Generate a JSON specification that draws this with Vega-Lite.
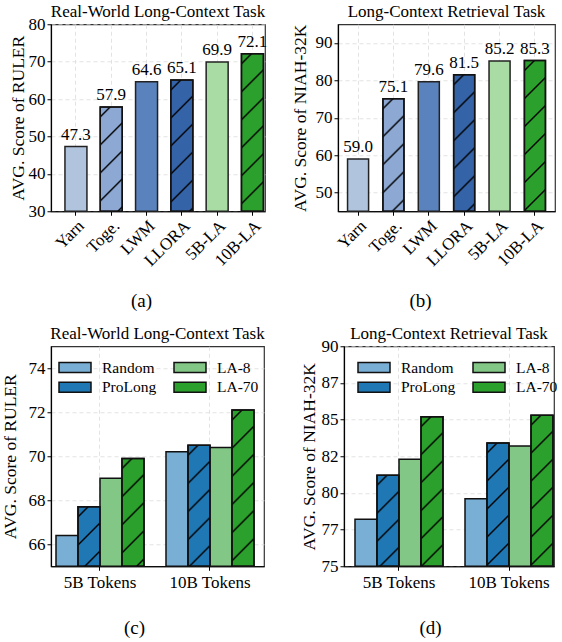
{
"$schema":"https://vega.github.io/schema/vega-lite/v6.json",
"background":"white",
"padding":{"left":0,"top":1.25,"right":0,"bottom":0},
"config":{
 "font":"Liberation Serif",
 "view":{"stroke":"#333","strokeWidth":1.2},
 "axis":{"labelFont":"Liberation Serif","titleFont":"Liberation Serif","labelFontSize":17,"titleFontSize":17.5,"titleFontWeight":"normal","labelColor":"#000","titleColor":"#000","domainColor":"#000","domainWidth":1.2,"tickColor":"#000","tickSize":4,"tickWidth":1,"gridColor":"#dcdcdc","gridDash":[4,3],"gridWidth":0.8,"labelPadding":2},
 "axisY":{"titleAngle":270,"titleAlign":"center","titleBaseline":"middle"},
 "title":{"font":"Liberation Serif","fontSize":17,"fontWeight":"normal","color":"#000"},
 "legend":{"labelFont":"Liberation Serif","labelFontSize":15.5,"labelColor":"#000","symbolType":"M-1.6,-0.5H1.6V0.5H-1.6Z","symbolSize":400,"symbolStrokeColor":"#111","symbolStrokeWidth":1.5,"symbolOpacity":1,"labelOffset":16,"columnPadding":14,"rowPadding":0,"columns":2,"orient":"none"}
},
"datasets":{
 "top":[
  {"task":"RULER","model":"Yarn","score":47.3},
  {"task":"RULER","model":"Toge.","score":57.9},
  {"task":"RULER","model":"LWM","score":64.6},
  {"task":"RULER","model":"LLORA","score":65.1},
  {"task":"RULER","model":"5B-LA","score":69.9},
  {"task":"RULER","model":"10B-LA","score":72.1},
  {"task":"NIAH","model":"Yarn","score":59.0},
  {"task":"NIAH","model":"Toge.","score":75.1},
  {"task":"NIAH","model":"LWM","score":79.6},
  {"task":"NIAH","model":"LLORA","score":81.5},
  {"task":"NIAH","model":"5B-LA","score":85.2},
  {"task":"NIAH","model":"10B-LA","score":85.3}
 ],
 "bottom":[
  {"task":"RULER","group":"5B Tokens","series":"Random","score":66.4},
  {"task":"RULER","group":"5B Tokens","series":"ProLong","score":67.7},
  {"task":"RULER","group":"5B Tokens","series":"LA-8","score":69.0},
  {"task":"RULER","group":"5B Tokens","series":"LA-70","score":69.9},
  {"task":"RULER","group":"10B Tokens","series":"Random","score":70.2},
  {"task":"RULER","group":"10B Tokens","series":"ProLong","score":70.5},
  {"task":"RULER","group":"10B Tokens","series":"LA-8","score":70.4},
  {"task":"RULER","group":"10B Tokens","series":"LA-70","score":72.1},
  {"task":"NIAH","group":"5B Tokens","series":"Random","score":78.2},
  {"task":"NIAH","group":"5B Tokens","series":"ProLong","score":81.2},
  {"task":"NIAH","group":"5B Tokens","series":"LA-8","score":82.3},
  {"task":"NIAH","group":"5B Tokens","series":"LA-70","score":85.2},
  {"task":"NIAH","group":"10B Tokens","series":"Random","score":79.6},
  {"task":"NIAH","group":"10B Tokens","series":"ProLong","score":83.4},
  {"task":"NIAH","group":"10B Tokens","series":"LA-8","score":83.2},
  {"task":"NIAH","group":"10B Tokens","series":"LA-70","score":85.3}
 ]
},
"spacing":12,
"resolve":{"scale":{"x":"independent","y":"independent","fill":"independent"},"legend":{"fill":"independent"}},
"vconcat":[
 {"spacing":22,
  "resolve":{"scale":{"x":"independent","y":"independent","fill":"independent"},"legend":{"fill":"independent"}},
  "hconcat":[
  {"width":214,"height":187,
   "title":{"text":"Real-World Long-Context Task","offset":-5.25},
   "data":{"name":"top"},
   "transform":[{"filter":"datum.task==='RULER'"}],
   "encoding":{
    "x":{"field":"model","type":"nominal","sort":null,"scale":{"paddingInner":0.377,"paddingOuter":0.2195,"align":0.9},
         "axis":{"title":"(a)","titleFontSize":19,"titleX":90,"titleY":89,"titleBaseline":"middle","titleAlign":"center","labelAngle":-45,"grid":true,"bandPosition":0.5}},
    "y":{"field":"score","type":"quantitative","scale":{"domain":[30,80],"nice":false,"zero":false,"clamp":true},
         "axis":{"title":"AVG. Score of RULER","values":[30,40,50,60,70,80],"titleX":-32.5,"titleY":93.5}}
   },
   "layer":[
    {"mark":{"type":"bar","stroke":"#222","strokeWidth":1.5},
     "encoding":{"fill":{"field":"model","type":"nominal","legend":null,
       "scale":{"domain":["Yarn","Toge.","LWM","LLORA","5B-LA","10B-LA"],"range":["#b0c4de","#8ca8d3","#5a82bd","#3563a8","#a9dca5","#2ca02c"]}}}},
    {"transform":[{"filter":"datum.model==='Toge.'||datum.model==='LLORA'||datum.model==='10B-LA'"}],
     "mark":{"type":"bar","stroke":"#111","strokeWidth":1.5},
     "encoding":{"fill":{"condition":[
      {"test":"datum.model==='Toge.'","value":{"gradient":"linear","x1":0,"y1":0,"x2":0.2446,"y2":1.1594,"stops":[
        {"offset":0.0634,"color":"transparent"},{"offset":0.0792,"color":"#000"},{"offset":0.095,"color":"transparent"},
        {"offset":0.2851,"color":"transparent"},{"offset":0.3009,"color":"#000"},{"offset":0.3167,"color":"transparent"},
        {"offset":0.5068,"color":"transparent"},{"offset":0.5226,"color":"#000"},{"offset":0.5384,"color":"transparent"},
        {"offset":0.7285,"color":"transparent"},{"offset":0.7443,"color":"#000"},{"offset":0.7601,"color":"transparent"},
        {"offset":0.9502,"color":"transparent"},{"offset":0.966,"color":"#000"},{"offset":0.9818,"color":"transparent"}]}},
      {"test":"datum.model==='LLORA'","value":{"gradient":"linear","x1":0,"y1":0,"x2":0.1903,"y2":1.1357,"stops":[
        {"offset":0.0522,"color":"transparent"},{"offset":0.0652,"color":"#000"},{"offset":0.0782,"color":"transparent"},
        {"offset":0.2349,"color":"transparent"},{"offset":0.2479,"color":"#000"},{"offset":0.2609,"color":"transparent"},
        {"offset":0.4175,"color":"transparent"},{"offset":0.4305,"color":"#000"},{"offset":0.4435,"color":"transparent"},
        {"offset":0.6002,"color":"transparent"},{"offset":0.6132,"color":"#000"},{"offset":0.6262,"color":"transparent"},
        {"offset":0.7828,"color":"transparent"},{"offset":0.7958,"color":"#000"},{"offset":0.8088,"color":"transparent"},
        {"offset":0.9655,"color":"transparent"},{"offset":0.9785,"color":"#000"},{"offset":0.9915,"color":"transparent"}]}},
      {"test":"datum.model==='10B-LA'","value":{"gradient":"linear","x1":0,"y1":0,"x2":0.1562,"y2":1.1179,"stops":[
        {"offset":0.0446,"color":"transparent"},{"offset":0.0557,"color":"#000"},{"offset":0.0668,"color":"transparent"},
        {"offset":0.2006,"color":"transparent"},{"offset":0.2117,"color":"#000"},{"offset":0.2228,"color":"transparent"},
        {"offset":0.3566,"color":"transparent"},{"offset":0.3677,"color":"#000"},{"offset":0.3788,"color":"transparent"},
        {"offset":0.5126,"color":"transparent"},{"offset":0.5237,"color":"#000"},{"offset":0.5348,"color":"transparent"},
        {"offset":0.6686,"color":"transparent"},{"offset":0.6797,"color":"#000"},{"offset":0.6908,"color":"transparent"},
        {"offset":0.8246,"color":"transparent"},{"offset":0.8357,"color":"#000"},{"offset":0.8468,"color":"transparent"}]}}
     ],"value":"transparent"}}},
    {"mark":{"type":"text","baseline":"bottom","dy":-3,"fontSize":17,"font":"Liberation Serif","color":"#000"},
     "encoding":{"text":{"field":"score","type":"quantitative","format":".1f"}}}
   ]
  },
  {"width":217,"height":187,
   "title":{"text":"Long-Context Retrieval Task","offset":3.25},
   "data":{"name":"top"},
   "transform":[{"filter":"datum.task==='NIAH'"}],
   "encoding":{
    "x":{"field":"model","type":"nominal","sort":null,"scale":{"paddingInner":0.405,"paddingOuter":0.27},
         "axis":{"title":"(b)","titleFontSize":19,"titleX":82,"titleY":89,"titleBaseline":"middle","titleAlign":"center","labelAngle":-45,"grid":true,"bandPosition":0.5}},
    "y":{"field":"score","type":"quantitative","scale":{"domain":[45,95],"nice":false,"zero":false,"clamp":true},
         "axis":{"title":"AVG. Score of NIAH-32K","values":[50,60,70,80,90],"titleX":-38,"titleY":93.5}}
   },
   "layer":[
    {"mark":{"type":"bar","stroke":"#222","strokeWidth":1.5},
     "encoding":{"fill":{"field":"model","type":"nominal","legend":null,
       "scale":{"domain":["Yarn","Toge.","LWM","LLORA","5B-LA","10B-LA"],"range":["#b0c4de","#8ca8d3","#5a82bd","#3563a8","#a9dca5","#2ca02c"]}}}},
    {"transform":[{"filter":"datum.model==='Toge.'||datum.model==='LLORA'||datum.model==='10B-LA'"}],
     "mark":{"type":"bar","stroke":"#111","strokeWidth":1.5},
     "encoding":{"fill":{"condition":[
      {"test":"datum.model==='Toge.'","value":{"gradient":"linear","x1":0,"y1":0,"x2":0.2138,"y2":1.1466,"stops":[
        {"offset":0.0599,"color":"transparent"},{"offset":0.0749,"color":"#000"},{"offset":0.0899,"color":"transparent"},
        {"offset":0.2694,"color":"transparent"},{"offset":0.2844,"color":"#000"},{"offset":0.2994,"color":"transparent"},
        {"offset":0.479,"color":"transparent"},{"offset":0.494,"color":"#000"},{"offset":0.509,"color":"transparent"},
        {"offset":0.6886,"color":"transparent"},{"offset":0.7036,"color":"#000"},{"offset":0.7186,"color":"transparent"},
        {"offset":0.8982,"color":"transparent"},{"offset":0.9132,"color":"#000"},{"offset":0.9282,"color":"transparent"}]}},
      {"test":"datum.model==='LLORA'","value":{"gradient":"linear","x1":0,"y1":0,"x2":0.1734,"y2":1.1272,"stops":[
        {"offset":0.0508,"color":"transparent"},{"offset":0.0635,"color":"#000"},{"offset":0.0762,"color":"transparent"},
        {"offset":0.2286,"color":"transparent"},{"offset":0.2413,"color":"#000"},{"offset":0.254,"color":"transparent"},
        {"offset":0.4063,"color":"transparent"},{"offset":0.419,"color":"#000"},{"offset":0.4317,"color":"transparent"},
        {"offset":0.5841,"color":"transparent"},{"offset":0.5968,"color":"#000"},{"offset":0.6095,"color":"transparent"},
        {"offset":0.7619,"color":"transparent"},{"offset":0.7746,"color":"#000"},{"offset":0.7873,"color":"transparent"},
        {"offset":0.9397,"color":"transparent"},{"offset":0.9524,"color":"#000"},{"offset":0.9651,"color":"transparent"}]}},
      {"test":"datum.model==='10B-LA'","value":{"gradient":"linear","x1":0,"y1":0,"x2":0.1557,"y2":1.1177,"stops":[
        {"offset":0.0466,"color":"transparent"},{"offset":0.0582,"color":"#000"},{"offset":0.0698,"color":"transparent"},
        {"offset":0.2097,"color":"transparent"},{"offset":0.2213,"color":"#000"},{"offset":0.2329,"color":"transparent"},
        {"offset":0.3728,"color":"transparent"},{"offset":0.3844,"color":"#000"},{"offset":0.396,"color":"transparent"},
        {"offset":0.5359,"color":"transparent"},{"offset":0.5475,"color":"#000"},{"offset":0.5591,"color":"transparent"},
        {"offset":0.6989,"color":"transparent"},{"offset":0.7105,"color":"#000"},{"offset":0.7221,"color":"transparent"},
        {"offset":0.862,"color":"transparent"},{"offset":0.8736,"color":"#000"},{"offset":0.8852,"color":"transparent"}]}}
     ],"value":"transparent"}}},
    {"mark":{"type":"text","baseline":"bottom","dy":-3,"fontSize":17,"font":"Liberation Serif","color":"#000"},
     "encoding":{"text":{"field":"score","type":"quantitative","format":".1f"}}}
   ]
  }
 ]},
 {"spacing":33,
  "resolve":{"scale":{"x":"independent","y":"independent","fill":"independent","xOffset":"independent"},"legend":{"fill":"independent"}},
  "hconcat":[
  {"width":213,"height":220,
   "title":{"text":"Real-World Long-Context Task","offset":3.25},
   "data":{"name":"bottom"},
   "transform":[{"filter":"datum.task==='RULER'"}],
   "encoding":{
    "x":{"field":"group","type":"nominal","sort":null,"scale":{"paddingInner":0.2,"paddingOuter":0.0682,"align":0.333},
         "axis":{"title":"(c)","titleFontSize":19,"titleX":83,"titleY":61,"titleBaseline":"middle","titleAlign":"center","labelAngle":0,"labelPadding":4,"grid":true,"bandPosition":0.5}},
    "xOffset":{"field":"series","type":"nominal","sort":["Random","ProLong","LA-8","LA-70"],"scale":{"paddingInner":0,"paddingOuter":0}},
    "y":{"field":"score","type":"quantitative","scale":{"domain":[65,75],"nice":false,"zero":false,"clamp":true},
         "axis":{"title":"AVG. Score of RULER","values":[66,68,70,72,74],"titleX":-41,"titleY":110}}
   },
   "layer":[
    {"mark":{"type":"bar","stroke":"#111","strokeWidth":1.5},
     "encoding":{"fill":{"field":"series","type":"nominal",
       "scale":{"domain":["Random","ProLong","LA-8","LA-70"],"range":["#7aafd5","#1f77b4","#82c785","#2ca02c"]},
       "legend":{"title":null,"legendX":13,"legendY":10}}}},
    {"transform":[{"filter":"datum.series==='ProLong'||datum.series==='LA-70'"}],
     "mark":{"type":"bar","stroke":"#111","strokeWidth":1.5},
     "encoding":{"fill":{"condition":[
      {"test":"datum.series==='ProLong'&&datum.group==='5B Tokens'","value":{"gradient":"linear","x1":0,"y1":0,"x2":0.4486,"y2":1.2052,"stops":[
        {"offset":0.0986,"color":"transparent"},{"offset":0.1233,"color":"#000"},{"offset":0.148,"color":"transparent"},
        {"offset":0.4439,"color":"transparent"},{"offset":0.4686,"color":"#000"},{"offset":0.4933,"color":"transparent"},
        {"offset":0.7891,"color":"transparent"},{"offset":0.8138,"color":"#000"},{"offset":0.8385,"color":"transparent"}]}},
      {"test":"datum.series==='LA-70'&&datum.group==='5B Tokens'","value":{"gradient":"linear","x1":0,"y1":0,"x2":0.2371,"y2":1.1565,"stops":[
        {"offset":0.0618,"color":"transparent"},{"offset":0.0773,"color":"#000"},{"offset":0.0928,"color":"transparent"},
        {"offset":0.2784,"color":"transparent"},{"offset":0.2939,"color":"#000"},{"offset":0.3094,"color":"transparent"},
        {"offset":0.4949,"color":"transparent"},{"offset":0.5104,"color":"#000"},{"offset":0.5259,"color":"transparent"},
        {"offset":0.7115,"color":"transparent"},{"offset":0.727,"color":"#000"},{"offset":0.7425,"color":"transparent"},
        {"offset":0.928,"color":"transparent"},{"offset":0.9435,"color":"#000"},{"offset":0.959,"color":"transparent"}]}},
      {"test":"datum.series==='ProLong'&&datum.group==='10B Tokens'","value":{"gradient":"linear","x1":0,"y1":0,"x2":0.2089,"y2":1.1444,"stops":[
        {"offset":0.0562,"color":"transparent"},{"offset":0.0702,"color":"#000"},{"offset":0.0842,"color":"transparent"},
        {"offset":0.2527,"color":"transparent"},{"offset":0.2667,"color":"#000"},{"offset":0.2807,"color":"transparent"},
        {"offset":0.4492,"color":"transparent"},{"offset":0.4632,"color":"#000"},{"offset":0.4772,"color":"transparent"},
        {"offset":0.6456,"color":"transparent"},{"offset":0.6596,"color":"#000"},{"offset":0.6736,"color":"transparent"},
        {"offset":0.8421,"color":"transparent"},{"offset":0.8561,"color":"#000"},{"offset":0.8701,"color":"transparent"}]}},
      {"test":"datum.series==='LA-70'&&datum.group==='10B Tokens'","value":{"gradient":"linear","x1":0,"y1":0,"x2":0.1583,"y2":1.1191,"stops":[
        {"offset":0.045,"color":"transparent"},{"offset":0.0563,"color":"#000"},{"offset":0.0676,"color":"transparent"},
        {"offset":0.2028,"color":"transparent"},{"offset":0.2141,"color":"#000"},{"offset":0.2254,"color":"transparent"},
        {"offset":0.3605,"color":"transparent"},{"offset":0.3718,"color":"#000"},{"offset":0.3831,"color":"transparent"},
        {"offset":0.5183,"color":"transparent"},{"offset":0.5296,"color":"#000"},{"offset":0.5409,"color":"transparent"},
        {"offset":0.676,"color":"transparent"},{"offset":0.6873,"color":"#000"},{"offset":0.6986,"color":"transparent"},
        {"offset":0.8338,"color":"transparent"},{"offset":0.8451,"color":"#000"},{"offset":0.8564,"color":"transparent"}]}}
     ],"value":"transparent"}}}
   ]
  },
  {"width":210,"height":220,
   "title":{"text":"Long-Context Retrieval Task","offset":-5.25},
   "data":{"name":"bottom"},
   "transform":[{"filter":"datum.task==='NIAH'"}],
   "encoding":{
    "x":{"field":"group","type":"nominal","sort":null,"scale":{"paddingInner":0.2,"paddingOuter":0.0545,"align":0.917},
         "axis":{"title":"(d)","titleFontSize":19,"titleX":86,"titleY":61,"titleBaseline":"middle","titleAlign":"center","labelAngle":0,"labelPadding":4,"grid":true,"bandPosition":0.5}},
    "xOffset":{"field":"series","type":"nominal","sort":["Random","ProLong","LA-8","LA-70"],"scale":{"paddingInner":0,"paddingOuter":0}},
    "y":{"field":"score","type":"quantitative","scale":{"domain":[75,90],"nice":false,"zero":false,"clamp":true},
         "axis":{"title":"AVG. Score of NIAH-32K","values":[75,77.5,80,82.5,85,87.5,90],"labelExpr":"floor(datum.value)","titleX":-35,"titleY":110}}
   },
   "layer":[
    {"mark":{"type":"bar","stroke":"#111","strokeWidth":1.5},
     "encoding":{"fill":{"field":"series","type":"nominal",
       "scale":{"domain":["Random","ProLong","LA-8","LA-70"],"range":["#7aafd5","#1f77b4","#82c785","#2ca02c"]},
       "legend":{"title":null,"legendX":19,"legendY":10}}}},
    {"transform":[{"filter":"datum.series==='ProLong'||datum.series==='LA-70'"}],
     "mark":{"type":"bar","stroke":"#111","strokeWidth":1.5},
     "encoding":{"fill":{"condition":[
      {"test":"datum.series==='ProLong'&&datum.group==='5B Tokens'","value":{"gradient":"linear","x1":0,"y1":0,"x2":0.2836,"y2":1.1732,"stops":[
        {"offset":0.0708,"color":"transparent"},{"offset":0.0885,"color":"#000"},{"offset":0.1062,"color":"transparent"},
        {"offset":0.3186,"color":"transparent"},{"offset":0.3363,"color":"#000"},{"offset":0.354,"color":"transparent"},
        {"offset":0.5664,"color":"transparent"},{"offset":0.5841,"color":"#000"},{"offset":0.6018,"color":"transparent"},
        {"offset":0.8142,"color":"transparent"},{"offset":0.8319,"color":"#000"},{"offset":0.8496,"color":"transparent"}]}},
      {"test":"datum.series==='LA-70'&&datum.group==='5B Tokens'","value":{"gradient":"linear","x1":0,"y1":0,"x2":0.1651,"y2":1.1228,"stops":[
        {"offset":0.0466,"color":"transparent"},{"offset":0.0583,"color":"#000"},{"offset":0.07,"color":"transparent"},
        {"offset":0.2097,"color":"transparent"},{"offset":0.2214,"color":"#000"},{"offset":0.2331,"color":"transparent"},
        {"offset":0.3729,"color":"transparent"},{"offset":0.3846,"color":"#000"},{"offset":0.3963,"color":"transparent"},
        {"offset":0.5361,"color":"transparent"},{"offset":0.5478,"color":"#000"},{"offset":0.5595,"color":"transparent"},
        {"offset":0.6993,"color":"transparent"},{"offset":0.711,"color":"#000"},{"offset":0.7227,"color":"transparent"},
        {"offset":0.8624,"color":"transparent"},{"offset":0.8741,"color":"#000"},{"offset":0.8858,"color":"transparent"}]}},
      {"test":"datum.series==='ProLong'&&datum.group==='10B Tokens'","value":{"gradient":"linear","x1":0,"y1":0,"x2":0.2039,"y2":1.1422,"stops":[
        {"offset":0.0551,"color":"transparent"},{"offset":0.0689,"color":"#000"},{"offset":0.0827,"color":"transparent"},
        {"offset":0.2479,"color":"transparent"},{"offset":0.2617,"color":"#000"},{"offset":0.2755,"color":"transparent"},
        {"offset":0.4407,"color":"transparent"},{"offset":0.4545,"color":"#000"},{"offset":0.4683,"color":"transparent"},
        {"offset":0.6336,"color":"transparent"},{"offset":0.6474,"color":"#000"},{"offset":0.6612,"color":"transparent"},
        {"offset":0.8264,"color":"transparent"},{"offset":0.8402,"color":"#000"},{"offset":0.854,"color":"transparent"}]}},
      {"test":"datum.series==='LA-70'&&datum.group==='10B Tokens'","value":{"gradient":"linear","x1":0,"y1":0,"x2":0.1633,"y2":1.1218,"stops":[
        {"offset":0.0462,"color":"transparent"},{"offset":0.0578,"color":"#000"},{"offset":0.0694,"color":"transparent"},
        {"offset":0.2079,"color":"transparent"},{"offset":0.2195,"color":"#000"},{"offset":0.2311,"color":"transparent"},
        {"offset":0.3697,"color":"transparent"},{"offset":0.3813,"color":"#000"},{"offset":0.3929,"color":"transparent"},
        {"offset":0.5314,"color":"transparent"},{"offset":0.543,"color":"#000"},{"offset":0.5546,"color":"transparent"},
        {"offset":0.6932,"color":"transparent"},{"offset":0.7048,"color":"#000"},{"offset":0.7164,"color":"transparent"},
        {"offset":0.855,"color":"transparent"},{"offset":0.8666,"color":"#000"},{"offset":0.8782,"color":"transparent"}]}}
     ],"value":"transparent"}}}
   ]
  }
 ]}
]
}
